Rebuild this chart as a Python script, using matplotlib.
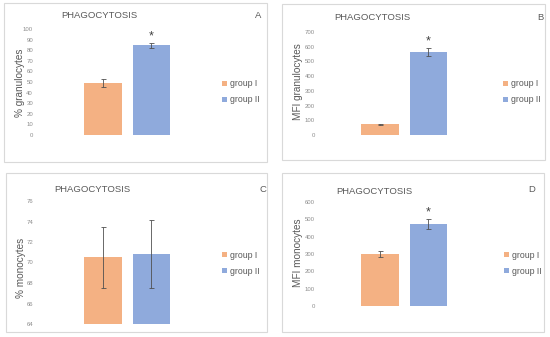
import numpy as np
import matplotlib
matplotlib.use('Agg')
import matplotlib.pyplot as plt
from matplotlib.patches import Rectangle

plt.rcParams['font.family'] = ['Liberation Sans', 'DejaVu Sans']

# values
GROUPS = ['group I', 'group II']
PCT_GRAN = [49.5, 84.5]
PCT_GRAN_ERR = [3.8, 2.4]
MFI_GRAN = [72, 564]
MFI_GRAN_ERR = [5, 27]
PCT_MONO = [70.5, 70.8]
PCT_MONO_ERR = [2.95, 3.3]
MFI_MONO = [300, 472]
MFI_MONO_ERR = [20, 29]

COLORS = ['#F4B183', '#8FAADC']
W, H = 550, 337

fig = plt.figure(figsize=(W / 100, H / 100), dpi=100)


def rect(x0, x1, ytop, ybot):
    # pixel box -> figure fraction
    return [x0 / W, 1 - ybot / H, (x1 - x0) / W, (ybot - ytop) / H]


def fpos(x, y):
    return x / W, 1 - y / H


# outer frames of the four charts
for x0, x1, y0, y1 in [(4, 267, 3, 162), (282, 545, 4, 160),
                       (6, 267, 173, 332), (282, 544, 173, 332)]:
    fig.patches.append(Rectangle((x0 / W, 1 - y1 / H), (x1 - x0) / W, (y1 - y0) / H,
                                 transform=fig.transFigure, fill=False,
                                 edgecolor='#d9d9d9', lw=0.8))

PANELS = [
    # vals, errs, ylim, ystep, ylabel, letter, axes px, title xy, letter xy, ylabel xy, legend xy, star
    (PCT_GRAN, PCT_GRAN_ERR, (0, 100), 10, '% granulocytes', 'A',
     (40, 215, 29, 135), (61, 16), (255, 16), (20, 83), (222, 92), True),
    (MFI_GRAN, MFI_GRAN_ERR, (0, 700), 100, 'MFI granulocytes', 'B',
     (322, 497, 32, 135), (334, 18), (537, 18), (298, 82), (503, 92), True),
    (PCT_MONO, PCT_MONO_ERR, (64, 76), 2, '% monocytes', 'C',
     (40, 215, 201, 324), (54, 189), (259, 189), (21, 268), (222, 263), False),
    (MFI_MONO, MFI_MONO_ERR, (0, 600), 100, 'MFI monocytes', 'D',
     (322, 497, 202, 306), (336, 191), (528, 189), (298, 253), (504, 263), True),
]

for vals, errs, ylim, step, ylab, letter, apx, tpos, lpos, ylpos, legpos, star in PANELS:
    ax = fig.add_axes(rect(*apx))
    xpos = [0.36, 0.637] if apx[0] < 100 else [0.33, 0.608]
    bars = []
    for i in range(2):
        b = ax.bar(xpos[i], vals[i] - ylim[0], width=0.215, bottom=ylim[0],
                   color=COLORS[i], label=GROUPS[i],
                   yerr=errs[i], capsize=1.8,
                   error_kw=dict(ecolor='#505050', elinewidth=0.6, capthick=0.6))
        bars.append(b)
    if star:
        ax.annotate('*', (xpos[1], vals[1] + errs[1]), xytext=(0, 0.5),
                    textcoords='offset points', ha='center', va='bottom',
                    fontsize=9, color='#404040')
    ax.set_xlim(0, 1)
    ax.set_ylim(*ylim)
    ax.set_yticks(np.arange(ylim[0], ylim[1] + step / 2, step))
    ax.tick_params(axis='y', length=0, labelsize=4.3, labelcolor='#8c8c8c', pad=5)
    ax.set_xticks([])
    for s in ax.spines.values():
        s.set_visible(False)
    ax.patch.set_alpha(0)

    fig.text(*fpos(*tpos), 'PHAGOCYTOSIS', fontsize=6.8, color='#595959',
             ha='left', va='center')
    fig.text(*fpos(*lpos), letter, fontsize=6.8, color='#595959',
             ha='left', va='center')
    fig.text(*fpos(*ylpos), ylab, fontsize=7.2, color='#595959', rotation=90,
             ha='center', va='center')
    fig.legend(handles=bars, labels=GROUPS, loc='center left',
               bbox_to_anchor=fpos(*legpos), bbox_transform=fig.transFigure,
               frameon=False, fontsize=6.3, labelcolor='#595959',
               handlelength=0.6, handleheight=0.6, handletextpad=0.3,
               labelspacing=0.8, borderpad=0, borderaxespad=0)

fig.savefig('out.png', dpi=100, facecolor='white')
